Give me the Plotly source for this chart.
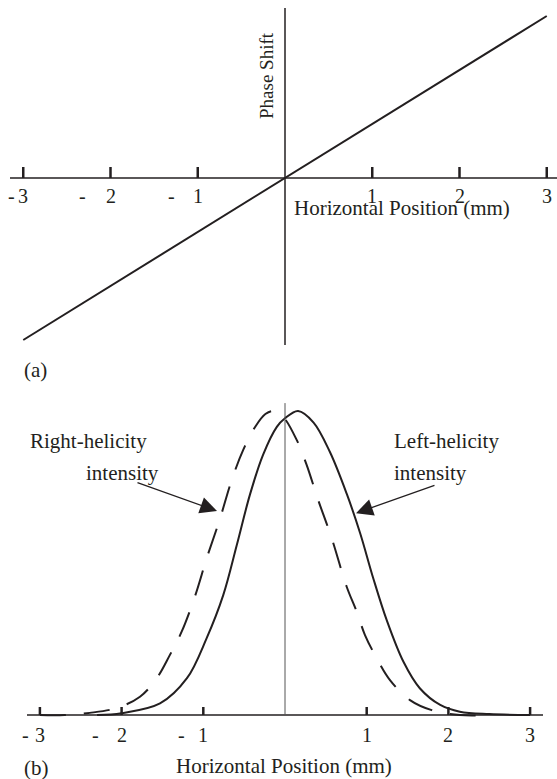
"""Phase shift vs position (a) and helicity intensity profiles (b)."""
import plotly.graph_objects as go

W, H = 557, 779
FONT = "Liberation Serif"
INK = "#231f20"

# ---- data -------------------------------------------------------------
TICKS = [-3, -2, -1, 1, 2, 3]

# (a) phase shift is linear in position
PHASE_X = [-3.0, 3.0]
PHASE_Y = [-3.0, 3.0]

# (b) intensity profiles
LEFT_X = [-2.3, -2.0, -1.53, -1.20, -0.96, -0.755, -0.59, -0.43, -0.27, -0.10,
          0.0, 0.16, 0.35, 0.55, 0.755, 0.92, 1.08, 1.245, 1.45, 1.65, 1.90,
          2.14, 2.5, 3.0]
LEFT_Y = [0.0, 0.006, 0.038, 0.121, 0.252, 0.395, 0.559, 0.724, 0.855, 0.948,
          0.976, 1.0, 0.962, 0.865, 0.728, 0.598, 0.450, 0.312, 0.175, 0.088,
          0.033, 0.011, 0.003, 0.0]

RIGHT_X = [-3.0, -2.7, -2.39, -2.06, -1.775, -1.57, -1.41, -1.265, -1.10,
           -0.958, -0.80, -0.652, -0.51, -0.36, -0.24, -0.143, -0.024, 0.143,
           0.266, 0.40, 0.572, 0.755, 0.878, 0.979, 1.122, 1.285, 1.53, 1.796,
           2.14, 2.5]
RIGHT_Y = [0.0, 0.0, 0.007, 0.023, 0.060, 0.121, 0.197, 0.274, 0.392,
           0.516, 0.642, 0.773, 0.873, 0.950, 0.990, 1.0, 0.981, 0.905,
           0.822, 0.712, 0.581, 0.422, 0.340, 0.263, 0.187, 0.115, 0.049, 0.016,
           0.0, 0.0]

# ---- figure -----------------------------------------------------------
fig = go.Figure()
fig.add_trace(go.Scatter(x=PHASE_X, y=PHASE_Y, mode="lines", xaxis="x", yaxis="y",
                         line=dict(color=INK, width=2), hoverinfo="skip"))
fig.add_trace(go.Scatter(x=LEFT_X, y=LEFT_Y, mode="lines", xaxis="x2", yaxis="y2",
                         line=dict(color=INK, width=2, shape="spline", smoothing=1.0),
                         name="Left-helicity intensity"))
fig.add_trace(go.Scatter(x=RIGHT_X, y=RIGHT_Y, mode="lines", xaxis="x2", yaxis="y2",
                         line=dict(color=INK, width=2, shape="spline", smoothing=1.0,
                                   dash="26px,18px"),
                         name="Right-helicity intensity"))

shapes, notes = [], []


def axis_frame(xr, yr, xline, yline, ticklen, vwidth, vcolor, label_shift, minus_off):
    # horizontal axis, vertical axis, upward ticks, split "- n" tick labels
    shapes.append(dict(type="line", xref=xr, yref=yr, x0=xline[0], x1=xline[1], y0=0, y1=0,
                       line=dict(color=INK, width=1.6)))
    shapes.append(dict(type="line", xref=xr, yref=yr, x0=0, x1=0, y0=yline[0], y1=yline[1],
                       line=dict(color=vcolor, width=vwidth)))
    for t in TICKS:
        shapes.append(dict(type="line", xref=xr, yref=yr, x0=t, x1=t, ysizemode="pixel",
                           yanchor=0, y0=0, y1=ticklen, line=dict(color=INK, width=2.5)))
        notes.append(dict(xref=xr, yref=yr, x=t, y=0, yshift=label_shift, text=str(abs(t)),
                          showarrow=False, font=dict(size=20)))
        if t < 0:
            notes.append(dict(xref=xr, yref=yr, x=t, y=0, yshift=label_shift,
                              xshift=minus_off[t], text="-", showarrow=False,
                              font=dict(size=20)))


axis_frame("x", "y", (-3.152, 3.12), (3.148, -3.093), 11, 1.5, INK, -18,
           {-3: -12, -2: -28, -1: -26})
axis_frame("x2", "y2", (-3.158, 3.158), (1.026, 0), 8, 1, "#555555", -20,
           {-3: -14, -2: -26, -1: -22})

notes += [
    dict(xref="x", yref="y", x=-0.218, y=1.907, text="Phase Shift", textangle=-90,
         showarrow=False, font=dict(size=19)),
    dict(xref="x", yref="y", x=1.341, y=-0.56, text="Horizontal Position (mm)",
         showarrow=False, font=dict(size=21)),
    dict(xref="paper", yref="paper", x=22 / W, y=1 - 370 / H, xanchor="left",
         yanchor="middle", text="(a)", showarrow=False, font=dict(size=21)),
    dict(xref="paper", yref="paper", x=22 / W, y=1 - 768 / H, xanchor="left",
         yanchor="middle", text="(b)", showarrow=False, font=dict(size=21)),
    dict(xref="x2", yref="y2", x=-0.018, y=-0.168, text="Horizontal Position (mm)",
         showarrow=False, font=dict(size=21)),
    dict(xref="x2", yref="y2", x=-3.15, y=0.901, xanchor="left", text="Right-helicity",
         showarrow=False, font=dict(size=21)),
    dict(xref="x2", yref="y2", x=-2.46, y=0.796, xanchor="left", text="intensity",
         showarrow=False, font=dict(size=21)),
    dict(xref="x2", yref="y2", x=1.31, y=0.901, xanchor="left", text="Left-helicity",
         showarrow=False, font=dict(size=21)),
    dict(xref="x2", yref="y2", x=1.31, y=0.796, xanchor="left", text="intensity",
         showarrow=False, font=dict(size=21)),
]
for tip, tail in [((-0.832, 0.671), (-1.824, 0.766)), ((0.869, 0.664), (1.848, 0.757))]:
    notes.append(dict(xref="x2", yref="y2", axref="x2", ayref="y2", x=tip[0], y=tip[1],
                      ax=tail[0], ay=tail[1], text="", showarrow=True, arrowhead=2,
                      arrowsize=2.6, arrowwidth=1.3, arrowcolor=INK, standoff=0))

hidden = dict(visible=False, fixedrange=True)
fig.update_layout(
    width=W, height=H, autosize=False, showlegend=False,
    margin=dict(l=0, r=0, t=0, b=0),
    paper_bgcolor="white", plot_bgcolor="white",
    font=dict(family=FONT, color=INK),
    xaxis=dict(hidden, domain=[0, 1], range=[-285 / 87.25, 272 / 87.25], anchor="y"),
    yaxis=dict(hidden, domain=[1 - 360 / H, 1], range=[-(360 - 178) / 54, 178 / 54], anchor="x"),
    xaxis2=dict(hidden, domain=[0, 1], range=[-285 / 81.7, 272 / 81.7], anchor="y2"),
    yaxis2=dict(hidden, domain=[0, 1 - 390 / H], range=[-(779 - 715) / 304, (715 - 390) / 304],
                anchor="x2"),
    shapes=shapes, annotations=notes,
)

fig.write_html("out.html", config={"displayModeBar": False},
               post_script="document.body.style.margin='0';")
